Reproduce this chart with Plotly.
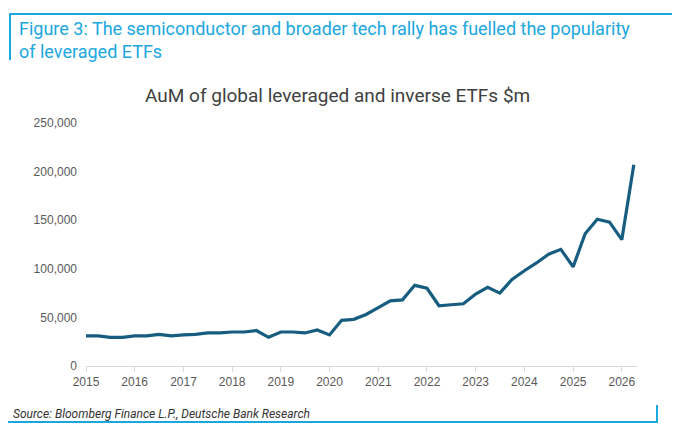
import plotly.graph_objects as go

# quarterly AuM, $m
quarters = [
    "2015-01-01", "2015-04-01", "2015-07-01", "2015-10-01",
    "2016-01-01", "2016-04-01", "2016-07-01", "2016-10-01",
    "2017-01-01", "2017-04-01", "2017-07-01", "2017-10-01",
    "2018-01-01", "2018-04-01", "2018-07-01", "2018-10-01",
    "2019-01-01", "2019-04-01", "2019-07-01", "2019-10-01",
    "2020-01-01", "2020-04-01", "2020-07-01", "2020-10-01",
    "2021-01-01", "2021-04-01", "2021-07-01", "2021-10-01",
    "2022-01-01", "2022-04-01", "2022-07-01", "2022-10-01",
    "2023-01-01", "2023-04-01", "2023-07-01", "2023-10-01",
    "2024-01-01", "2024-04-01", "2024-07-01", "2024-10-01",
    "2025-01-01", "2025-04-01", "2025-07-01", "2025-10-01",
    "2026-01-01", "2026-04-01",
]
aum = [
    31000, 31000, 29500, 29500,
    31000, 31000, 32500, 31000,
    32000, 32500, 34000, 34000,
    35000, 35000, 36500, 29500,
    35000, 35000, 34000, 37000,
    32000, 47000, 48000, 53000,
    60000, 67000, 68000, 83000,
    80000, 62000, 63000, 64000,
    74000, 81000, 75000, 89000,
    98000, 106000, 115000, 120000,
    102000, 136000, 151000, 148000,
    130000, 207000,
]

header = "Figure 3: The semiconductor and broader tech rally has fuelled the popularity<br>of leveraged ETFs"
chart_title = "AuM of global leveraged and inverse ETFs $m"
source = "Source: Bloomberg Finance L.P., Deutsche Bank Research"

BLUE = "#1aa7e0"

fig = go.Figure()
fig.add_trace(go.Scatter(
    x=quarters, y=aum, mode="lines",
    line=dict(color="#165d80", width=3.2),
    hoverinfo="x+y",
))

# page body adds an 8px offset, so margins are shifted by 8
fig.update_layout(
    width=680, height=432,
    margin=dict(l=78, r=51, t=115, b=74),
    paper_bgcolor="white", plot_bgcolor="white",
    showlegend=False,
    font=dict(family="Liberation Sans, Arial, sans-serif", size=12, color="#595959"),
)

fig.update_xaxes(
    type="date", range=["2015-01-01", "2026-04-25"],
    dtick="M12", tick0="2015-01-01", tickformat="%Y",
    showgrid=False, zeroline=False,
    showline=True, linecolor="#d9d9d9", linewidth=1,
    ticks="outside", ticklen=5, tickcolor="#d9d9d9",
)
fig.update_yaxes(
    range=[0, 250000], dtick=50000, tickformat=",",
    showgrid=False, zeroline=False, showline=False,
    ticklabelstandoff=8,
)

# positions below are in screen pixels, converted to paper coords
def px_x(v):
    return (v - 86) / 551

def px_y(v):
    return (366 - v) / 243

fig.add_annotation(
    text=header, xref="paper", yref="paper",
    x=px_x(17), y=px_y(16),
    xanchor="left", yanchor="top", align="left", showarrow=False,
    font=dict(family="Roboto", size=18, color=BLUE),
)
fig.add_annotation(
    text=chart_title, xref="paper", yref="paper",
    x=px_x(337), y=px_y(95),
    xanchor="center", yanchor="middle", showarrow=False,
    font=dict(family="Roboto", size=19, color="#404040"),
)
fig.add_annotation(
    text="<i>" + source + "</i>", xref="paper", yref="paper",
    x=px_x(11), y=px_y(414),
    xanchor="left", yanchor="middle", showarrow=False,
    font=dict(family="Roboto", size=12, color="#333333"),
)

line_style = dict(color=BLUE, width=2)
fig.add_shape(type="line", xref="paper", yref="paper",
              x0=px_x(9), x1=px_x(672), y0=px_y(14), y1=px_y(14), line=line_style)
fig.add_shape(type="line", xref="paper", yref="paper",
              x0=px_x(10), x1=px_x(10), y0=px_y(14), y1=px_y(60), line=line_style)
fig.add_shape(type="line", xref="paper", yref="paper",
              x0=px_x(8), x1=px_x(658), y0=px_y(422), y1=px_y(422), line=line_style)
fig.add_shape(type="line", xref="paper", yref="paper",
              x0=px_x(657), x1=px_x(657), y0=px_y(405), y1=px_y(422), line=line_style)

fig.write_html("out.html")
